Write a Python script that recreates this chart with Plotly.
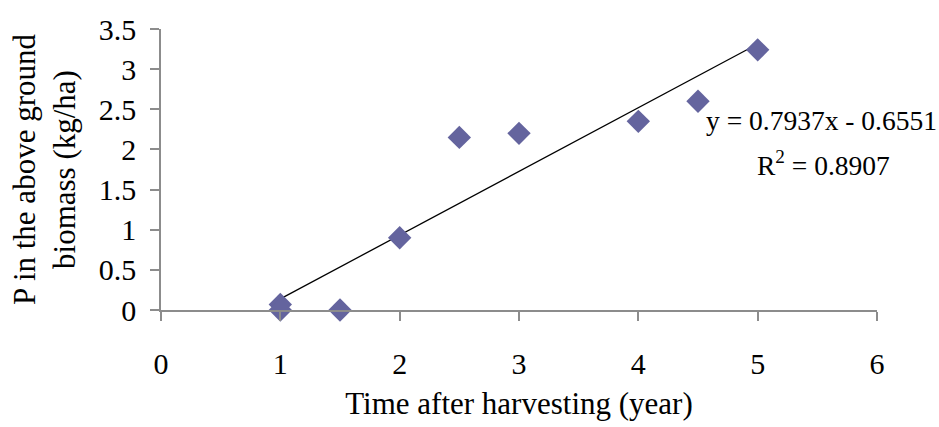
import plotly.graph_objects as go

years = [1, 1, 1.5, 2, 2.5, 3, 4, 4.5, 5]
p_biomass = [0.07, 0.0, 0.0, 0.9, 2.15, 2.2, 2.35, 2.6, 3.24]
slope = 0.7937
intercept = -0.6551
trend_x = [1, 5]
trend_y = [slope * x + intercept for x in trend_x]

FONT = "Liberation Serif"
AXIS_COL = "#8c8c8c"

fig = go.Figure()
fig.add_trace(go.Scatter(
    x=trend_x, y=trend_y, mode="lines",
    line=dict(color="black", width=1.3), showlegend=False, hoverinfo="skip",
    cliponaxis=False))
fig.add_trace(go.Scatter(
    x=years, y=p_biomass, mode="markers",
    marker=dict(symbol="diamond", size=18, color="rgb(100,100,158)"),
    showlegend=False, cliponaxis=False))

fig.add_annotation(x=1.087, y=2.36, xref="paper", yref="y", xanchor="right",
                   text="y = 0.7937x - 0.6551", showarrow=False,
                   font=dict(family=FONT, size=27.5, color="black"))
fig.add_annotation(x=5.55, y=1.82, xref="x", yref="y",
                   text="R<sup>2</sup> = 0.8907", showarrow=False,
                   font=dict(family=FONT, size=27.5, color="black"))

fig.update_layout(
    width=939, height=427,
    margin=dict(l=161, r=62, t=19, b=117),
    paper_bgcolor="white", plot_bgcolor="white",
    font=dict(family=FONT, size=30, color="black"),
    xaxis=dict(range=[0, 6], tickvals=[0, 1, 2, 3, 4, 5, 6],
               showgrid=False, zeroline=False,
               showline=True, linecolor=AXIS_COL, linewidth=1.5,
               ticks="outside", ticklen=9, tickcolor=AXIS_COL, tickwidth=1.5,
               ticklabelstandoff=17,
               tickfont=dict(family=FONT, size=30, color="black"),
               title=dict(text="Time after harvesting (year)", standoff=14,
                          font=dict(family=FONT, size=31, color="black"))),
    yaxis=dict(range=[0, 3.5], tickvals=[0, 0.5, 1, 1.5, 2, 2.5, 3, 3.5],
               ticktext=["0", "0.5", "1", "1.5", "2", "2.5", "3", "3.5"],
               showgrid=False, zeroline=False,
               showline=True, linecolor=AXIS_COL, linewidth=1.5,
               ticks="outside", ticklen=9, tickcolor=AXIS_COL, tickwidth=1.5,
               ticklabelstandoff=8,
               tickfont=dict(family=FONT, size=30, color="black"),
               title=dict(text="P in the above ground<br>biomass (kg/ha)",
                          standoff=14,
                          font=dict(family=FONT, size=31, color="black"))),
)

fig.write_html("out.html")
